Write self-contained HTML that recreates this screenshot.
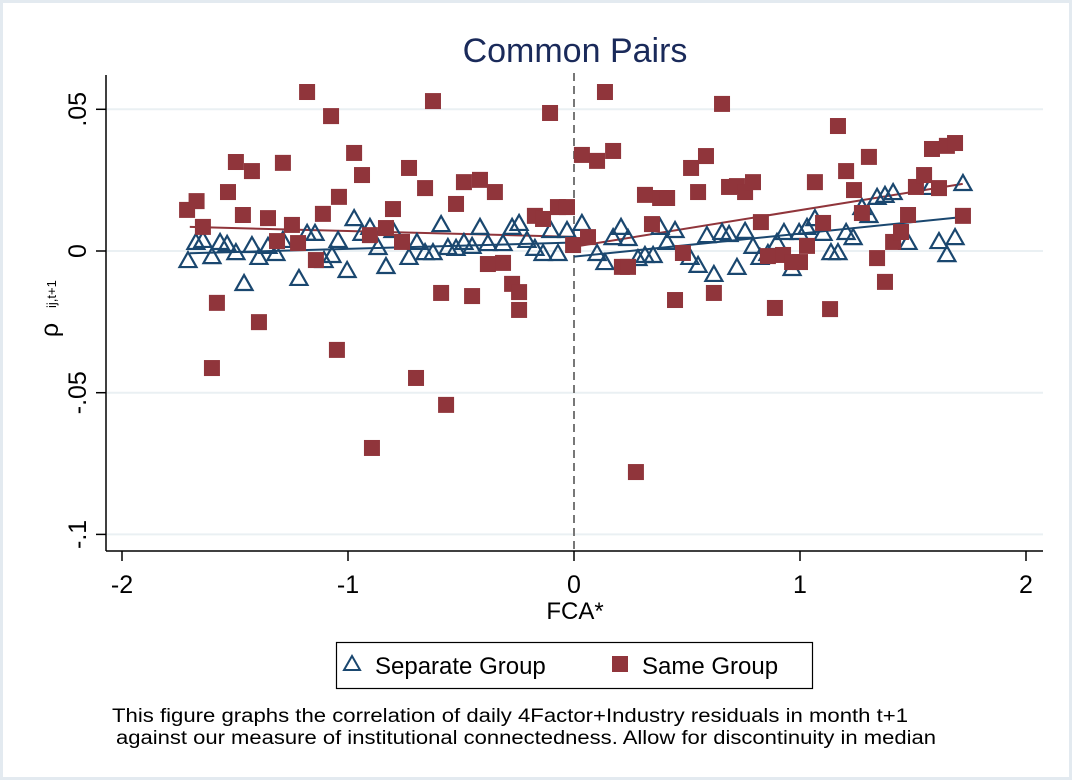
<!DOCTYPE html>
<html><head><meta charset="utf-8"><style>
html,body{margin:0;padding:0;background:#fff}
svg{display:block;font-family:"Liberation Sans",Arial,sans-serif}
</style></head><body>
<svg id="chart" width="1072" height="780" viewBox="0 0 1072 780">
<rect x="1.5" y="1.5" width="1069" height="777" fill="#fff" stroke="#e3eaf0" stroke-width="3"/>
<text x="575" y="62" font-size="34" fill="#1a2a5a" text-anchor="middle">Common Pairs</text>
<g id="grid"></g>
<g id="axes"></g>
<g id="lines"></g>
<g id="marks"></g>
<text x="575" y="619" font-size="24" text-anchor="middle" fill="#000">FCA*</text>
<g transform="translate(58,330) rotate(-90)">
<text x="0" y="0" font-size="25" text-anchor="middle">ρ</text>
<text x="22" y="-2" font-size="13" text-anchor="start">ij,t+1</text>
</g>
<g>
<rect x="336.5" y="642.5" width="476" height="46" fill="#fff" stroke="#000" stroke-width="1.2"/>
<polygon points="352,656 344,670 360,670" fill="none" stroke="#1a476f" stroke-width="2"/>
<text x="375" y="674" font-size="24">Separate Group</text>
<rect x="612" y="656" width="16" height="16" fill="#90353b"/>
<text x="642" y="674" font-size="24">Same Group</text>
</g>
<text x="112" y="722" font-size="19" textLength="796" lengthAdjust="spacingAndGlyphs">This figure graphs the correlation of daily 4Factor+Industry residuals in month t+1</text>
<text x="116" y="744" font-size="19" textLength="820" lengthAdjust="spacingAndGlyphs">against our measure of institutional connectedness. Allow for discontinuity in median</text>
</svg>
<script>
const xTicks=[-2,-1,0,1,2];
const yTicks=[0.05,0,-0.05,-0.1];
const yTickLabels=[".05","0","-.05","-.1"];
const redX=[-1.712,-1.670,-1.642,-1.580,-1.602,-1.531,-1.496,-1.465,-1.425,-1.394,-1.354,-1.314,-1.288,-1.248,-1.221,-1.181,-1.142,-1.111,-1.075,-1.049,-1.040,-0.973,-0.938,-0.903,-0.894,-0.832,-0.801,-0.761,-0.730,-0.699,-0.659,-0.624,-0.588,-0.566,-0.522,-0.487,-0.451,-0.416,-0.381,-0.350,-0.314,-0.274,-0.243,-0.243,-0.173,-0.137,-0.106,-0.071,-0.031,-0.004,
0.035,0.062,0.102,0.137,0.173,0.212,0.239,0.274,0.314,0.345,0.381,0.412,0.447,0.482,0.518,0.549,0.584,0.619,0.655,0.686,0.721,0.757,0.792,0.827,0.858,0.889,0.925,0.965,1.000,1.031,1.066,1.102,1.133,1.168,1.204,1.239,1.274,1.305,1.341,1.376,1.412,1.447,1.478,1.513,1.549,1.584,1.615,1.650,1.686,1.721];
const redY=[0.0145,0.0176,0.0085,-0.0183,-0.0413,0.0208,0.0314,0.0127,0.0282,-0.0251,0.0116,0.0035,0.0311,0.0092,0.0028,0.0561,-0.0032,0.0131,0.0476,-0.0349,0.0191,0.0346,0.0268,0.0056,-0.0695,0.0081,0.0148,0.0032,0.0293,-0.0448,0.0222,0.0529,-0.0148,-0.0543,0.0166,0.0243,-0.0159,0.0251,-0.0046,0.0208,-0.0042,-0.0116,-0.0145,-0.0208,0.0124,0.0113,0.0487,0.0155,0.0155,0.0021,
0.0339,0.0049,0.0318,0.0561,0.0353,-0.0056,-0.0056,-0.0780,0.0198,0.0095,0.0187,0.0187,-0.0173,-0.0007,0.0293,0.0208,0.0335,-0.0148,0.0519,0.0226,0.0229,0.0208,0.0243,0.0102,-0.0018,-0.0201,-0.0014,-0.0039,-0.0039,0.0018,0.0243,0.0099,-0.0205,0.0441,0.0282,0.0215,0.0134,0.0332,-0.0025,-0.0109,0.0032,0.0067,0.0127,0.0226,0.0268,0.0360,0.0222,0.0371,0.0381,0.0124];
const blueX=[-1.708,-1.673,-1.642,-1.602,-1.566,-1.535,-1.496,-1.460,-1.425,-1.394,-1.354,-1.319,-1.288,-1.217,-1.181,-1.146,-1.106,-1.071,-1.044,-1.004,-0.973,-0.938,-0.903,-0.867,-0.832,-0.801,-0.730,-0.695,-0.659,-0.624,-0.588,-0.558,-0.522,-0.487,-0.451,-0.416,-0.381,-0.314,-0.274,-0.243,-0.208,-0.173,-0.137,-0.102,-0.071,-0.031,
0.035,0.102,0.137,0.173,0.208,0.239,0.283,0.314,0.350,0.381,0.412,0.447,0.513,0.549,0.588,0.619,0.655,0.686,0.721,0.757,0.792,0.823,0.858,0.898,0.929,0.965,0.996,1.031,1.066,1.102,1.137,1.168,1.204,1.235,1.274,1.305,1.341,1.376,1.412,1.478,1.575,1.615,1.650,1.686,1.721];
const blueY=[-0.0032,0.0032,0.0039,-0.0018,0.0032,0.0025,-0.0004,-0.0113,0.0021,-0.0021,0.0018,-0.0007,0.0039,-0.0095,0.0064,0.0064,-0.0032,-0.0014,0.0039,-0.0067,0.0116,0.0064,0.0085,0.0014,-0.0053,0.0074,-0.0021,0.0032,-0.0004,-0.0004,0.0095,0.0014,0.0011,0.0032,0.0018,0.0085,0.0028,0.0028,0.0085,0.0099,0.0039,0.0011,-0.0007,0.0074,-0.0007,0.0074,
0.0099,-0.0007,-0.0039,0.0049,0.0085,0.0046,-0.0025,-0.0014,-0.0014,0.0085,0.0032,0.0074,-0.0021,-0.0049,0.0056,-0.0081,0.0067,0.0060,-0.0056,0.0071,0.0018,-0.0021,-0.0007,0.0032,0.0067,-0.0060,0.0067,0.0085,0.0116,0.0064,-0.0004,-0.0004,0.0067,0.0049,0.0155,0.0127,0.0191,0.0198,0.0208,0.0032,0.0226,0.0035,-0.0011,0.0049,0.0240];
const redFitLeft=[[-1.70,0.0085],[0,0.0050]];
const redFitRight=[[0,0.0015],[1.72,0.0237]];
const blueFitLeft=[[-1.70,-0.0008],[0,0.0030]];
const blueFitRight=[[0,-0.0020],[1.72,0.0120]];

const NS="http://www.w3.org/2000/svg";
const X=v=>574+v*226;
const Y=v=>251-v*2834;
function mk(tag,attrs,parent){const e=document.createElementNS(NS,tag);for(const k in attrs)e.setAttribute(k,attrs[k]);parent.appendChild(e);return e;}
const grid=document.getElementById('grid'),axes=document.getElementById('axes'),lines=document.getElementById('lines'),marks=document.getElementById('marks');
yTicks.forEach((t,i)=>{
  const g=mk('line',{x1:107,x2:1043,y1:Y(t),y2:Y(t),stroke:'#eaf0f3','stroke-width':2},grid);
  
  
  const tk=mk('line',{x1:96,x2:106,y1:Y(t),y2:Y(t),stroke:'#000','stroke-width':1.5},axes);
  
  
  const lb=mk('text',{x:0,y:0,'font-size':25,'text-anchor':'middle',transform:`translate(86,${Y(t)}) rotate(-90)`},axes);
  lb.textContent=yTickLabels[i];
  
  
});
const ya=mk('line',{x1:106,x2:106,y1:75,y2:551,stroke:'#000','stroke-width':1.5},axes);


const xa=mk('line',{x1:106,x2:1043,y1:551,y2:551,stroke:'#000','stroke-width':1.5},axes);


xTicks.forEach(t=>{
  const tk=mk('line',{x1:X(t),x2:X(t),y1:551,y2:561,stroke:'#000','stroke-width':1.5},axes);
  
  
  const lb=mk('text',{x:X(t),y:593,'font-size':25,'text-anchor':'middle'},axes);
  lb.textContent=String(t);
  
  
});
const dl=mk('line',{x1:X(0),x2:X(0),y1:73,y2:551,stroke:'#777','stroke-width':2,'stroke-dasharray':'8,5'},axes);


[[redFitLeft,'#90353b'],[redFitRight,'#90353b'],[blueFitLeft,'#1a476f'],[blueFitRight,'#1a476f']].forEach(([f,c])=>{
  const l=mk('line',{x1:X(f[0][0]),y1:Y(f[0][1]),x2:X(f[1][0]),y2:Y(f[1][1]),stroke:c,'stroke-width':2},lines);
  
  
});
blueX.forEach((x,i)=>{
  const cx=X(x),cy=Y(blueY[i]);
  const p=mk('polygon',{points:`${cx},${cy-8} ${cx-8.5},${cy+7} ${cx+8.5},${cy+7}`,fill:'none',stroke:'#1a476f','stroke-width':2.2},marks);
  
  
});
redX.forEach((x,i)=>{
  const r=mk('rect',{x:X(x)-8,y:Y(redY[i])-8,width:16,height:16,fill:'#90353b'},marks);
  
  
});
</script>
</body></html>
